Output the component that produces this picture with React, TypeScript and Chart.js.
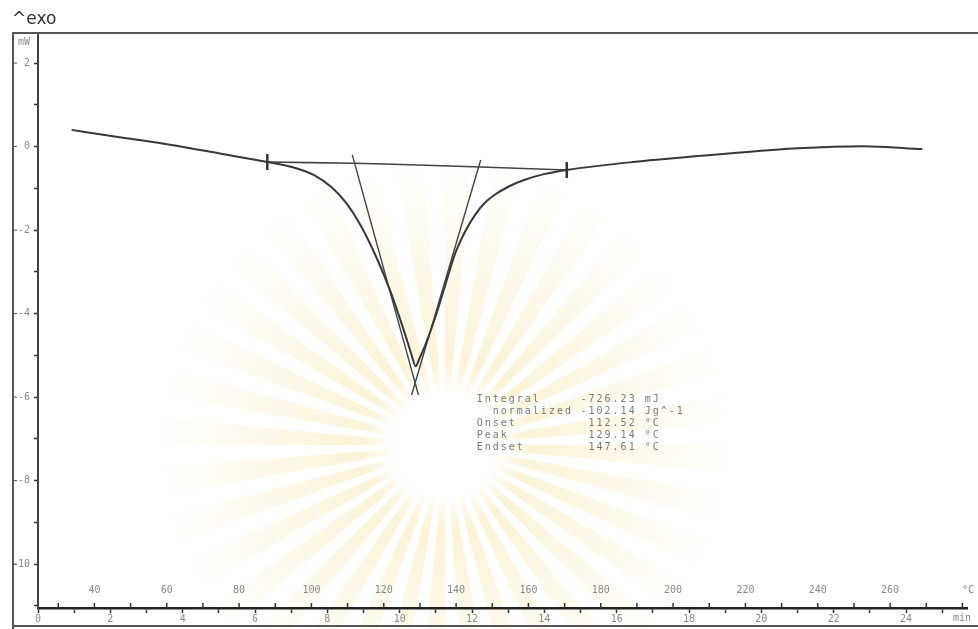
import React, { useEffect, useRef } from 'react';
import { Chart, registerables } from 'chart.js';

Chart.register(...registerables);

// ---- data (time in min, heat flow in mW) ----
const curveTime = [0.93, 2.3, 3.69, 5.0, 6.34, 7.02, 7.62, 8.11, 8.52, 8.93, 9.34, 9.75, 10.11, 10.33, 10.44, 10.55, 10.71, 10.98, 11.26, 11.53, 11.8, 12.08, 12.35, 12.62, 13.03, 13.44, 13.99, 14.62, 16.45, 19.18, 21.01, 22.81, 24.45];
const curveHeatFlow = [0.40, 0.22, 0.04, -0.16, -0.37, -0.49, -0.68, -0.97, -1.35, -1.9, -2.62, -3.48, -4.39, -4.99, -5.26, -5.07, -4.75, -4.1, -3.32, -2.57, -2.05, -1.64, -1.35, -1.16, -0.95, -0.8, -0.66, -0.56, -0.37, -0.16, -0.04, 0.01, -0.06];

const baselineTime = [6.34, 8.69, 10.5, 12.24, 14.62];
const baselineHeatFlow = [-0.37, -0.4, -0.44, -0.49, -0.56];

const leftTangentTime = [8.69, 10.52];
const leftTangentHeatFlow = [-0.2, -5.95];
const rightTangentTime = [12.24, 10.33];
const rightTangentHeatFlow = [-0.32, -5.95];

const limitTime = [6.34, 14.62];
const limitHeatFlow = [-0.37, -0.56];

// axes
const timeTicks = [0, 1, 2, 3, 4, 5, 6, 7, 8, 9, 10, 11, 12, 13, 14, 15, 16, 17, 18, 19, 20, 21, 22, 23, 24, 25];
const timeLabels = [0, 2, 4, 6, 8, 10, 12, 14, 16, 18, 20, 22, 24];
const heatFlowTicks = [2, 1, 0, -1, -2, -3, -4, -5, -6, -7, -8, -9, -10, -11];
const heatFlowLabels = [2, 0, -2, -4, -6, -8, -10];
const tempTicks = [30, 40, 50, 60, 70, 80, 90, 100, 110, 120, 130, 140, 150, 160, 170, 180, 190, 200, 210, 220, 230, 240, 250, 260, 270, 280];
const tempLabels = [40, 60, 80, 100, 120, 140, 160, 180, 200, 220, 240, 260];
const START_TEMP = 24.4; // °C at t = 0
const HEATING_RATE = 10; // K/min

// result box
const resultNames = ['Integral', '  normalized', 'Onset', 'Peak', 'Endset'];
const resultValues = ['-726.23 mJ', '-102.14 Jg^-1', ' 112.52 °C', ' 129.14 °C', ' 147.61 °C'];

const toXY = (xs: number[], ys: number[]) => xs.map((x, i) => ({ x, y: ys[i] }));
const tempToTime = (T: number) => (T - START_TEMP) / HEATING_RATE;

const TEXT = '#8a8a8a';
const MONO = '"DejaVu Sans Mono", monospace';

const decorPlugin = {
  id: 'decor',
  beforeDraw(chart: any) {
    const ctx = chart.ctx;
    ctx.save();
    ctx.fillStyle = '#ffffff';
    ctx.fillRect(0, 0, chart.width, chart.height);
    // faint watermark sunburst
    const cx = 445, cy = 445;
    const R = 300;
    const grad = ctx.createRadialGradient(cx, cy, 50, cx, cy, R);
    grad.addColorStop(0, 'rgba(246,222,140,0.42)');
    grad.addColorStop(0.5, 'rgba(248,230,165,0.25)');
    grad.addColorStop(1, 'rgba(250,238,190,0)');
    const n = 36;
    for (let i = 0; i < n; i++) {
      const a0 = (i * 2 * Math.PI) / n;
      const a1 = a0 + (Math.PI / n) * 1.1;
      ctx.beginPath();
      ctx.moveTo(cx, cy);
      ctx.arc(cx, cy, R, a0, a1);
      ctx.closePath();
      ctx.fillStyle = grad;
      ctx.fill();
    }
    const g2 = ctx.createRadialGradient(cx, cy, 0, cx, cy, 85);
    g2.addColorStop(0, 'rgba(255,255,255,1)');
    g2.addColorStop(0.6, 'rgba(255,255,255,1)');
    g2.addColorStop(1, 'rgba(255,255,255,0)');
    ctx.fillStyle = g2;
    ctx.beginPath();
    ctx.arc(cx, cy, 85, 0, Math.PI * 2);
    ctx.fill();
    ctx.restore();
  },
  afterDraw(chart: any) {
    const ctx = chart.ctx;
    const xs = chart.scales.x;
    const ys = chart.scales.y;
    const area = chart.chartArea;
    ctx.save();
    // frame
    ctx.strokeStyle = '#555';
    ctx.lineWidth = 2;
    ctx.beginPath();
    ctx.moveTo(13, chart.height);
    ctx.lineTo(13, area.top);
    ctx.lineTo(chart.width, area.top);
    ctx.stroke();
    ctx.beginPath();
    ctx.moveTo(13, 626);
    ctx.lineTo(chart.width, 626);
    ctx.stroke();
    // left-frame small ticks
    ctx.lineWidth = 1;
    heatFlowLabels.forEach((v) => {
      const y = ys.getPixelForValue(v);
      ctx.beginPath();
      ctx.moveTo(13, y);
      ctx.lineTo(17, y);
      ctx.stroke();
    });
    // temperature ticks above the time axis
    ctx.strokeStyle = '#333';
    ctx.lineWidth = 1.5;
    tempTicks.forEach((T) => {
      const x = xs.getPixelForValue(tempToTime(T));
      if (x < area.left || x > area.right) return;
      ctx.beginPath();
      ctx.moveTo(x, area.bottom);
      ctx.lineTo(x, area.bottom - 5);
      ctx.stroke();
    });
    ctx.fillStyle = TEXT;
    ctx.font = `10px ${MONO}`;
    ctx.textAlign = 'center';
    ctx.textBaseline = 'middle';
    tempLabels.forEach((T) => {
      const x = xs.getPixelForValue(tempToTime(T));
      ctx.fillText(String(T), x, area.bottom - 18);
    });
    ctx.fillText('°C', 968, area.bottom - 18);
    ctx.fillText('min', 962, 618);
    ctx.fillText('mW', 24, 42);
    // exo label
    ctx.fillStyle = '#333';
    ctx.font = '17px "DejaVu Sans", sans-serif';
    ctx.textAlign = 'left';
    ctx.textBaseline = 'alphabetic';
    ctx.fillText('^exo', 12, 24);
    // result box
    ctx.fillStyle = '#7a7a7a';
    ctx.font = `10px ${MONO}`;
    try { (ctx as any).letterSpacing = '2px'; } catch (e) { /* ignore */ }
    ctx.textBaseline = 'middle';
    const bx = xs.getPixelForValue(12.13);
    const by = ys.getPixelForValue(-6.05);
    const vx = xs.getPixelForValue(15.0);
    resultNames.forEach((s, i) => {
      ctx.fillText(s, bx, by + i * 12);
      ctx.fillText(resultValues[i], vx, by + i * 12);
    });
    ctx.restore();
  },
};

export default function App() {
  const ref = useRef<HTMLCanvasElement | null>(null);
  useEffect(() => {
    if (!ref.current) return;
    const lineStyle = { borderColor: '#383838', pointRadius: 0, fill: false };
    const chart = new Chart(ref.current, {
      type: 'line',
      data: {
        datasets: [
          { ...lineStyle, label: 'DSC', data: toXY(curveTime, curveHeatFlow), borderWidth: 2, cubicInterpolationMode: 'monotone' },
          { ...lineStyle, label: 'Baseline', data: toXY(baselineTime, baselineHeatFlow), borderWidth: 1.6, borderColor: '#444', tension: 0.3 },
          { ...lineStyle, label: 'Left tangent', data: toXY(leftTangentTime, leftTangentHeatFlow), borderWidth: 1.4, borderColor: '#444' },
          { ...lineStyle, label: 'Right tangent', data: toXY(rightTangentTime, rightTangentHeatFlow), borderWidth: 1.4, borderColor: '#444' },
          {
            label: 'Limits', data: toXY(limitTime, limitHeatFlow), showLine: false,
            pointStyle: 'line', rotation: 90, pointRadius: 8, pointBorderWidth: 2.5,
            pointBorderColor: '#333', borderColor: '#333',
          },
        ] as any,
      },
      options: {
        animation: false,
        responsive: false,
        devicePixelRatio: 1,
        layout: { padding: { top: 33, left: 0, right: 0, bottom: 0 } },
        plugins: { legend: { display: false }, tooltip: { enabled: false } },
        scales: {
          x: {
            type: 'linear', min: 0, max: 25.7,
            afterFit: (s: any) => { s.height = 21; },
            afterBuildTicks: (s: any) => { s.ticks = timeTicks.map((v) => ({ value: v })); },
            grid: { drawOnChartArea: false, drawTicks: true, tickLength: 5, tickColor: '#333', tickWidth: 1.5 },
            border: { display: true, color: '#222', width: 2.5 },
            ticks: {
              autoSkip: false, maxRotation: 0, padding: 0, color: TEXT,
              font: { family: MONO, size: 10 },
              callback: (v: any) => (timeLabels.includes(v) ? String(v) : ''),
            },
          },
          y: {
            type: 'linear', min: -11.05, max: 2.72,
            afterFit: (s: any) => { s.width = 38; },
            afterBuildTicks: (s: any) => { s.ticks = heatFlowTicks.map((v) => ({ value: v })); },
            grid: { drawOnChartArea: false, drawTicks: true, tickLength: 4, tickColor: '#333', tickWidth: 1.5 },
            border: { display: true, color: '#444', width: 2 },
            ticks: {
              autoSkip: false, padding: 4, color: TEXT,
              font: { family: MONO, size: 10 },
              callback: (v: any) => (heatFlowLabels.includes(v) ? String(v) : ''),
            },
          },
        },
      } as any,
      plugins: [decorPlugin],
    });
    return () => chart.destroy();
  }, []);
  return (
    <div style={{ position: 'fixed', left: 0, top: 0, width: 978, height: 629, background: '#fff' }}>
      <canvas ref={ref} width={978} height={629} style={{ display: 'block', width: 978, height: 629 }} />
    </div>
  );
}
